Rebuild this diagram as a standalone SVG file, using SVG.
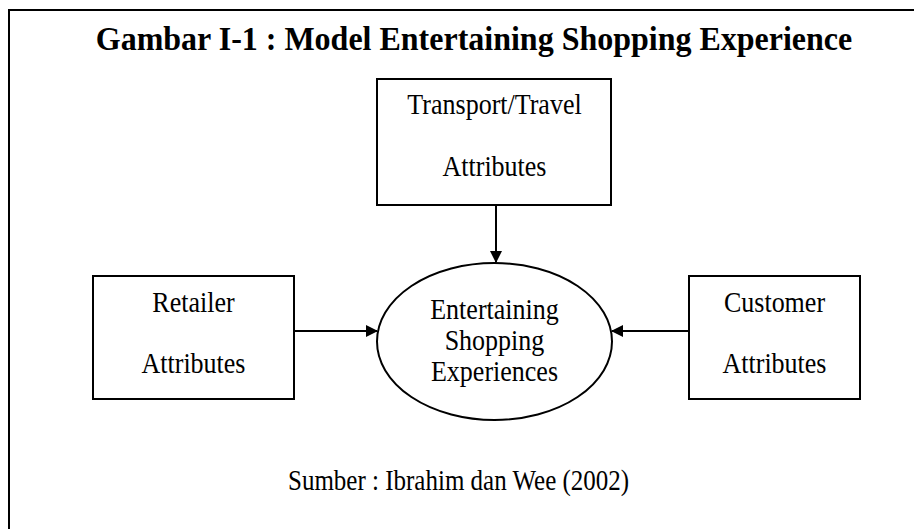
<svg xmlns="http://www.w3.org/2000/svg" width="914" height="529" viewBox="0 0 914 529">
<style>
.box{fill:#fff;stroke:#000;stroke-width:2}
.t{font-family:"Liberation Serif","Times New Roman",serif;font-size:26px;fill:#000;text-anchor:middle}
.title{font-family:"Liberation Serif","Times New Roman",serif;font-size:32px;font-weight:bold;fill:#000;text-anchor:middle}
.src{font-family:"Liberation Serif","Times New Roman",serif;font-size:25px;fill:#000}
.conn{stroke:#000;stroke-width:2;fill:none}
</style>
<defs>
<marker id="arr" markerWidth="12" markerHeight="12" refX="11" refY="6" orient="auto" markerUnits="userSpaceOnUse">
<path d="M0,0 L12,6 L0,12 Z" fill="#000"/>
</marker>
</defs>
<rect width="914" height="529" fill="#fff"/>
<rect x="9" y="10" width="920" height="540" fill="none" stroke="#000" stroke-width="2"/>
<text class="title" transform="translate(474,50) scale(1,1.03)">Gambar I-1 : Model Entertaining Shopping Experience</text>
<g id="transport">
<rect class="box" x="377" y="79" width="234" height="126"/>
<text class="t" transform="translate(494.5,114) scale(1,1.1)">Transport/Travel</text>
<text class="t" transform="translate(494.5,176) scale(1,1.1)">Attributes</text>
</g>
<g id="retailer">
<rect class="box" x="93" y="276" width="201" height="123"/>
<text class="t" transform="translate(193.5,312) scale(1,1.1)">Retailer</text>
<text class="t" transform="translate(193.5,373) scale(1,1.1)">Attributes</text>
</g>
<g id="customer">
<rect class="box" x="689" y="276" width="171" height="123"/>
<text class="t" transform="translate(774.5,312) scale(1,1.1)">Customer</text>
<text class="t" transform="translate(774.5,373) scale(1,1.1)">Attributes</text>
</g>
<g id="experience">
<ellipse class="box" cx="494.5" cy="341.5" rx="117.5" ry="78.5"/>
<text class="t" transform="translate(494.5,319) scale(1,1.1)">Entertaining</text>
<text class="t" transform="translate(494.5,350) scale(1,1.1)">Shopping</text>
<text class="t" transform="translate(494.5,381) scale(1,1.1)">Experiences</text>
</g>
<g id="connectors">
<line class="conn" x1="496" y1="205" x2="496" y2="262" marker-end="url(#arr)"/>
<line class="conn" x1="294" y1="331" x2="377" y2="331" marker-end="url(#arr)"/>
<line class="conn" x1="689" y1="331" x2="612" y2="331" marker-end="url(#arr)"/>
</g>
<text class="src" transform="translate(288,490) scale(1,1.2)">Sumber : Ibrahim dan Wee (2002)</text>
</svg>
